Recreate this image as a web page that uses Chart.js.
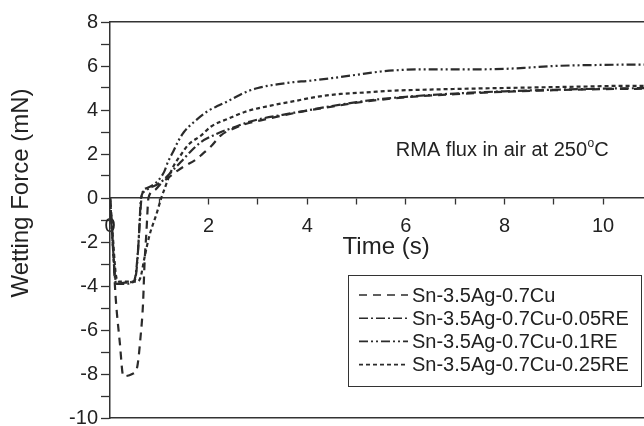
<!DOCTYPE html>
<html><head><meta charset="utf-8">
<script src="https://cdn.jsdelivr.net/npm/chart.js@4.4.1/dist/chart.umd.min.js"></script>
<style>html,body{margin:0;padding:0;background:#fff;overflow:hidden}#wrap{width:644px;height:426px}</style>
</head><body><div id="wrap"><canvas id="c" width="644" height="426"></canvas></div>
<script>
// ---------- data ----------
const seriesLabels = ['Sn-3.5Ag-0.7Cu', 'Sn-3.5Ag-0.7Cu-0.05RE', 'Sn-3.5Ag-0.7Cu-0.1RE', 'Sn-3.5Ag-0.7Cu-0.25RE'];
const xTitle = 'Time (s)';
const yTitle = 'Wetting Force (mN)';
const noteText = 'RMA flux in air at 250';
const noteSup = 'o';
const noteUnit = 'C';

const tSAC = [0, 0.06, 0.1, 0.2, 0.27, 0.45, 0.55, 0.62, 0.67, 0.7, 0.74, 0.78, 0.9, 1.05, 1.2, 1.38, 1.55, 1.71, 1.85, 2.05, 2.25, 2.5, 2.8, 3.1, 3.5, 4.0, 4.5, 5.0, 5.5, 6.0, 7.0, 8.0, 9.0, 10.0, 11.0];
const fSAC = [0, -2.0, -4.0, -6.6, -8.1, -8.0, -7.7, -6.3, -4.8, -3.0, -1.5, 0, 0.35, 0.7, 0.95, 1.26, 1.5, 1.7, 1.95, 2.35, 2.85, 3.15, 3.4, 3.55, 3.75, 3.97, 4.15, 4.33, 4.47, 4.58, 4.72, 4.83, 4.9, 4.95, 4.97];

const tRE005 = [0, 0.04, 0.1, 0.13, 0.3, 0.45, 0.52, 0.58, 0.63, 0.7, 0.8, 0.95, 1.1, 1.25, 1.44, 1.65, 1.85, 2.05, 2.25, 2.5, 2.8, 3.06, 3.5, 4.0, 4.5, 5.0, 5.5, 6.0, 7.0, 8.0, 9.0, 10.0, 11.0];
const fRE005 = [0, -1.5, -3.5, -3.9, -3.9, -3.85, -3.5, -2.0, 0, 0.3, 0.45, 0.6, 0.85, 1.2, 1.65, 2.15, 2.55, 2.8, 3.0, 3.2, 3.45, 3.6, 3.78, 3.98, 4.18, 4.36, 4.5, 4.6, 4.75, 4.85, 4.92, 4.97, 5.0];

const tRE01 = [0, 0.04, 0.1, 0.13, 0.3, 0.5, 0.55, 0.6, 0.65, 0.75, 0.88, 1.0, 1.1, 1.18, 1.28, 1.38, 1.5, 1.71, 1.99, 2.2, 2.39, 2.6, 2.8, 3.0, 3.2, 3.5, 3.73, 4.0, 4.5, 5.0, 5.5, 6.0, 6.5, 7.0, 7.5, 8.0, 8.5, 9.0, 10.0, 11.0];
const fRE01 = [0, -1.5, -3.6, -3.9, -3.85, -3.75, -3.0, -1.2, 0.2, 0.45, 0.6, 0.85, 1.2, 1.67, 2.1, 2.57, 3.0, 3.47, 3.96, 4.2, 4.4, 4.65, 4.86, 5.0, 5.1, 5.2, 5.27, 5.32, 5.45, 5.6, 5.75, 5.83, 5.85, 5.85, 5.85, 5.87, 5.93, 6.0, 6.05, 6.07];

const tRE025 = [0, 0.05, 0.12, 0.18, 0.4, 0.55, 0.62, 0.7, 0.8, 0.94, 1.04, 1.12, 1.2, 1.3, 1.45, 1.58, 1.85, 2.05, 2.39, 2.8, 3.26, 3.73, 4.2, 4.68, 5.2, 5.75, 6.5, 7.5, 8.5, 9.5, 10.5, 11.0];
const fRE025 = [0, -1.5, -3.5, -3.8, -3.8, -3.8, -3.6, -2.7, -1.7, -0.75, 0, 0.5, 1.0, 1.5, 2.0, 2.4, 2.85, 3.25, 3.6, 3.96, 4.2, 4.4, 4.6, 4.73, 4.8, 4.88, 4.93, 4.98, 5.02, 5.06, 5.1, 5.1];

const xMin = 0, xMax = 10.83, xStep = 1;
const yMin = -10, yMax = 8, yStep = 1;

// ---------- styles ----------
const FONT = '"Liberation Sans", Arial, Helvetica, sans-serif';
const INK = '#222';
const LINE = '#2b2b2b';
const dashes = [[8, 6], [9, 3, 2, 3], [9, 3, 2, 3, 2, 3], [4, 3]];

function pts(t, f) { return t.map((v, i) => ({ x: v, y: f[i] })); }
const allSeries = [[tSAC, fSAC], [tRE005, fRE005], [tRE01, fRE01], [tRE025, fRE025]];

const datasets = allSeries.map((s, i) => ({
  label: seriesLabels[i],
  data: pts(s[0], s[1]),
  showLine: true,
  borderColor: LINE,
  borderWidth: 2.2,
  borderDash: dashes[i],
  pointRadius: 0,
  cubicInterpolationMode: 'monotone',
  fill: false
}));

const overlay = {
  id: 'overlay',
  afterDraw(chart) {
    const { ctx, chartArea: a, scales } = chart;
    // y title
    ctx.save();
    ctx.fillStyle = INK;
    ctx.font = '24px ' + FONT;
    ctx.translate(21, (a.top + a.bottom) / 2 - 27);
    ctx.rotate(-Math.PI / 2);
    ctx.textAlign = 'center';
    ctx.textBaseline = 'middle';
    ctx.fillText(yTitle, 0, 0);
    ctx.restore();

    // x title (sits just under the tick labels of the zero-line axis)
    ctx.save();
    ctx.fillStyle = INK;
    ctx.font = '24px ' + FONT;
    ctx.textAlign = 'center';
    ctx.textBaseline = 'middle';
    ctx.fillText(xTitle, scales.x.getPixelForValue(5.6), scales.y.getPixelForValue(0) + 49);
    ctx.restore();

    // annotation
    ctx.save();
    ctx.fillStyle = INK;
    ctx.textBaseline = 'alphabetic';
    const big = '20px ' + FONT, small = '12px ' + FONT;
    ctx.font = big; const w1 = ctx.measureText(noteText).width; const w3 = ctx.measureText(noteUnit).width;
    ctx.font = small; const w2 = ctx.measureText(noteSup).width;
    const cx = scales.x.getPixelForValue(7.95);
    const by = scales.y.getPixelForValue(1.9);
    let x0 = cx - (w1 + w2 + w3) / 2;
    ctx.font = big; ctx.fillText(noteText, x0, by);
    ctx.font = small; ctx.fillText(noteSup, x0 + w1 + 0.5, by - 9);
    ctx.font = big; ctx.fillText(noteUnit, x0 + w1 + w2 + 0.5, by);
    ctx.restore();

    // legend
    ctx.save();
    const bw = 293, bh = 111;
    const bx = a.right - bw - 3, byy = a.top + 253;
    ctx.strokeStyle = '#333';
    ctx.lineWidth = 1;
    ctx.strokeRect(bx + 0.5, byy + 0.5, bw, bh);
    ctx.font = '20px ' + FONT;
    ctx.fillStyle = INK;
    ctx.textBaseline = 'middle';
    chart.data.datasets.forEach((ds, i) => {
      const ry = byy + 20 + i * 23.2;
      ctx.beginPath();
      ctx.setLineDash(ds.borderDash);
      ctx.strokeStyle = LINE;
      ctx.lineWidth = 1.6;
      ctx.moveTo(bx + 11, ry);
      ctx.lineTo(bx + 60, ry);
      ctx.stroke();
      ctx.setLineDash([]);
      ctx.fillText(ds.label, bx + 64, ry + 1);
    });
    ctx.restore();
  }
};

new Chart(document.getElementById('c'), {
  type: 'scatter',
  data: { datasets },
  plugins: [overlay],
  options: {
    responsive: false,
    animation: false,
    layout: { padding: { top: 22, right: 0, bottom: 5, left: 0 } },
    plugins: { legend: { display: false }, tooltip: { enabled: false } },
    scales: {
      x: {
        type: 'linear',
        position: { y: 0 },
        min: xMin, max: xMax,
        ticks: {
          stepSize: xStep, includeBounds: false, color: INK, padding: 10,
          font: { family: FONT, size: 20 },
          callback: v => (v % 2 === 0 ? String(v) : '')
        },
        grid: { drawOnChartArea: false, tickLength: 6, color: '#333', tickWidth: 1.3 },
        border: { display: true, color: '#333', width: 1.5 }
      },
      xTop: {
        type: 'linear', position: 'top', min: 0, max: 1,
        ticks: { display: false }, grid: { display: false, drawTicks: false },
        border: { display: true, color: '#333', width: 1.5 }
      },
      xBottom: {
        type: 'linear', position: 'bottom', min: 0, max: 1,
        ticks: { display: false }, grid: { display: false, drawTicks: false },
        border: { display: true, color: '#333', width: 1.5 }
      },
      y: {
        type: 'linear', position: 'left',
        min: yMin, max: yMax,
        afterFit(s) { s.width = 110; },
        ticks: {
          stepSize: yStep, color: INK, padding: 3,
          font: { family: FONT, size: 20, lineHeight: 0.5 },
          callback: v => (v % 2 === 0 ? String(v) : '')
        },
        grid: { drawOnChartArea: false, tickLength: 9, color: '#333', tickWidth: 1.3 },
        border: { display: true, color: '#333', width: 1.5 }
      }
    }
  }
});
</script>
</body></html>
